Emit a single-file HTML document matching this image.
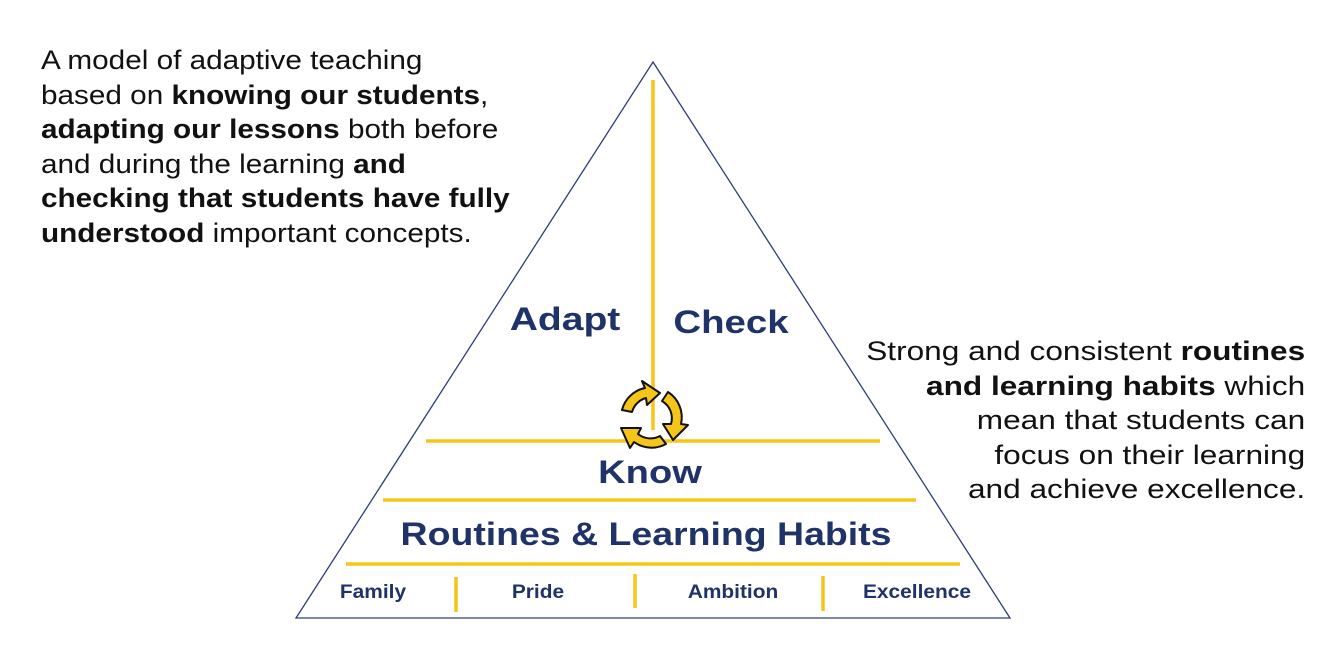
<!DOCTYPE html>
<html><head><style>
body{margin:0;width:1339px;height:657px;background:#fff;position:relative;overflow:hidden;font-family:"Liberation Sans",sans-serif;}
.p{position:absolute;font-size:27px;line-height:34.5px;color:#111;white-space:nowrap;}
.p b{font-weight:bold;}
.l{position:absolute;color:#1f3368;font-weight:bold;white-space:nowrap;}
</style></head><body>
<div class="p" style="left:41px;top:43px;transform-origin:0 0;transform:scaleX(1.1);">A model of adaptive teaching<br>based on <b>knowing our students</b>,<br><b>adapting our lessons</b> both before<br>and during the learning <b>and<br>checking that students have fully<br>understood</b> important concepts.</div>
<div class="p" style="right:34px;top:334px;text-align:right;transform-origin:100% 0;transform:scaleX(1.17);">Strong and consistent <b>routines<br>and learning habits</b> which<br>mean that students can<br>focus on their learning<br>and achieve excellence.</div>
<svg width="1339" height="657" style="position:absolute;left:0;top:0">
<polygon points="653,62 296,618 1010,618" fill="none" stroke="#2c3e7a" stroke-width="1.3"/>
<g stroke="#f5c518" stroke-width="3.5">
<line x1="653" y1="80" x2="653" y2="430"/>
<line x1="426" y1="441" x2="880" y2="441"/>
<line x1="383" y1="500" x2="916" y2="500"/>
<line x1="346" y1="564" x2="960" y2="564"/>
<line x1="456" y1="577" x2="456" y2="612"/>
<line x1="635" y1="574" x2="635" y2="608"/>
<line x1="823" y1="576" x2="823" y2="611"/>
</g>
<g fill="#f5c518" stroke="#111" stroke-width="2" stroke-linejoin="round">
<path d="M622,410 A30,30 0 0 1 645,388 L642,381 L660,393 L647,405 L646,398 A20,20 0 0 0 632,412 Z"/>
<path d="M668,392 A30,30 0 0 1 681,424 L688,425 L673,440 L663,424 L671,424 A20,20 0 0 0 662,401 Z"/>
<path d="M666,444 A30,30 0 0 1 634,442 L630,448 L621,428 L641,428 L638,434 A20,20 0 0 0 660,436 Z"/>
</g>
</svg>
<div class="l" style="left:565px;top:301px;font-size:32px;transform:translateX(-50%) scaleX(1.22);">Adapt</div>
<div class="l" style="left:731px;top:304px;font-size:32px;transform:translateX(-50%) scaleX(1.2);">Check</div>
<div class="l" style="left:650px;top:454px;font-size:32px;transform:translateX(-50%) scaleX(1.19);">Know</div>
<div class="l" style="left:646px;top:516px;font-size:32px;transform:translateX(-50%) scaleX(1.17);">Routines &amp; Learning Habits</div>
<div class="l" style="left:373px;top:582px;font-size:19px;transform:translateX(-50%) scaleX(1.1);">Family</div>
<div class="l" style="left:538px;top:582px;font-size:19px;transform:translateX(-50%) scaleX(1.1);">Pride</div>
<div class="l" style="left:733px;top:582px;font-size:19px;transform:translateX(-50%) scaleX(1.1);">Ambition</div>
<div class="l" style="left:917px;top:582px;font-size:19px;transform:translateX(-50%) scaleX(1.1);">Excellence</div>
</body></html>
